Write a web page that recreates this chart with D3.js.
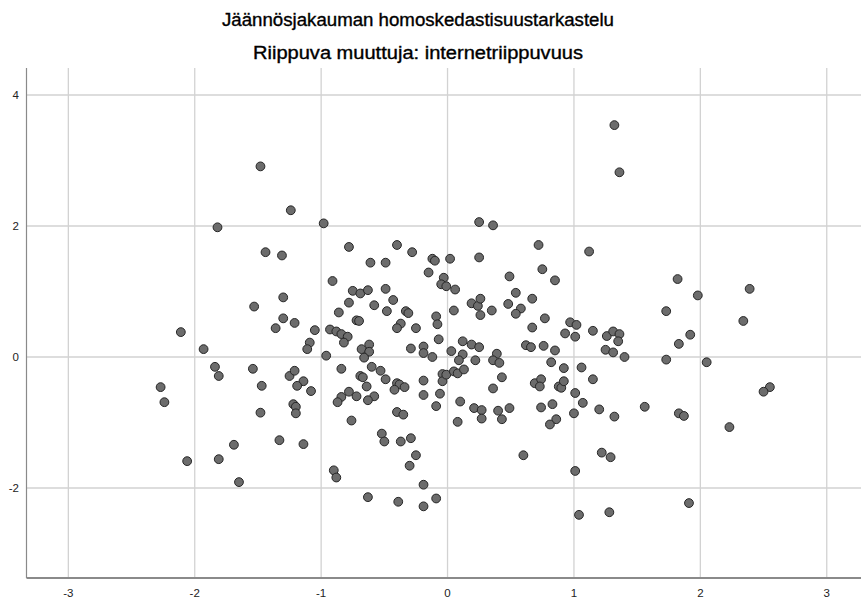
<!DOCTYPE html>
<html>
<head>
	<meta charset="utf-8" />
	<title>residual scatter</title>
	<script src="https://cdn.jsdelivr.net/npm/d3@7/dist/d3.min.js"></script>
	<style>
	body { margin: 0; background: #fff; }
	.grid line { stroke: #d2d2d2; stroke-width: 1.3px; }
	.tick-label { font: 11.5px "Liberation Sans Narrow", "Arial Narrow", "Liberation Sans", sans-serif; fill: #222; }
	.title { font: 17.5px "Liberation Sans Narrow", "Arial Narrow", "Liberation Sans", sans-serif; fill: #000; stroke: #000; stroke-width: 0.35px; }
	</style>
</head>
<body>
<div id="chart"></div>
<script>

const titleLines = ["Jäännösjakauman homoskedastisuustarkastelu", "Riippuva muuttuja: internetriippuvuus"];
const xTicks = [-3, -2, -1, 0, 1, 2, 3];
const yTicks = [-2, 0, 2, 4];

// residual pairs (x = predicted, y = residual)
const xValues = [
	-1.48, -1.24, -1.82, -0.98, -1.44, -1.31, -0.91, -1.30, -1.53, -1.30,
	-1.21, -1.36, -1.05, -0.93, -2.11, -1.09, -1.11, -1.93, -0.96, -1.84,
	-1.81, -1.54, -1.25, -1.21, -1.14, -1.19, -1.08, -1.47, -2.27, -2.24,
	-1.22, -1.20, -1.20, -1.48, -1.33, -1.14, -1.69, -1.81, -2.06, -1.65,
	-0.78, -0.40, -0.28, -0.12, -0.10, 0.02, 0.25, -0.61, -0.49, -0.15,
	-0.03, -0.05, -0.01, 0.06, -0.75, -0.69, -0.63, -0.49, -0.43, -0.78,
	-0.58, -0.86, -0.48, -0.33, -0.31, 0.05, 0.19, 0.24, 0.26, -0.09,
	-0.08, -0.72, -0.70, -0.37, -0.40, -0.25, -0.88, 0.26, -0.84, -0.79,
	-0.82, -0.07, -0.68, -0.62, -0.62, -0.66, -0.29, -0.19, -0.19, -0.12,
	0.03, 0.12, 0.19, 0.25, 0.12, 0.09, 0.22, -0.84, -0.60, -0.53,
	-0.49, -0.69, -0.67, -0.64, -0.40, -0.38, -0.34, -0.42, -0.19, -0.04,
	-0.04, -0.01, 0.05, 0.08, 0.13, -0.78, -0.84, -0.87, -0.72, -0.58,
	-0.63, -0.19, -0.06, -0.09, 0.10, 0.21, 0.08, -0.76, -0.40, -0.35,
	-0.52, -0.50, -0.37, -0.29, -0.25, -0.30, -0.90, -0.88, -0.19, -0.63,
	-0.39, -0.19, -0.09, 0.25, 0.36, 0.72, 1.12, 0.75, 0.49, 0.85,
	0.54, 0.67, 0.48, 0.58, 0.54, 0.35, 0.77, 0.67, 0.97, 1.02,
	0.93, 1.01, 1.15, 1.26, 1.31, 1.36, 1.35, 1.25, 1.31, 1.40,
	0.39, 0.36, 0.41, 0.62, 0.66, 0.76, 0.85, 0.82, 0.92, 1.06,
	0.43, 0.36, 0.69, 0.74, 0.73, 0.88, 0.90, 0.92, 1.15, 1.01,
	1.07, 1.00, 1.20, 1.32, 0.27, 0.27, 0.40, 0.43, 0.49, 0.74,
	0.83, 0.86, 0.81, 0.60, 1.22, 1.29, 1.01, 1.04, 1.28, 1.32,
	1.36, 1.82, 1.98, 2.39, 1.73, 2.34, 1.92, 1.83, 1.73, 2.05,
	2.55, 2.50, 1.56, 1.83, 1.87, 2.23, 1.91
];
const yValues = [
	2.91, 2.24, 1.98, 2.04, 1.60, 1.55, 1.16, 0.91, 0.77, 0.59,
	0.52, 0.44, 0.41, 0.42, 0.38, 0.22, 0.12, 0.12, 0.02, -0.15,
	-0.29, -0.18, -0.29, -0.21, -0.37, -0.44, -0.52, -0.44, -0.46, -0.69,
	-0.72, -0.76, -0.86, -0.85, -1.27, -1.33, -1.34, -1.56, -1.59, -1.91,
	1.68, 1.71, 1.60, 1.50, 1.47, 1.50, 1.52, 1.44, 1.44, 1.29,
	1.21, 1.11, 1.08, 1.03, 1.01, 0.97, 1.02, 1.04, 0.87, 0.83,
	0.79, 0.68, 0.70, 0.70, 0.67, 0.71, 0.82, 0.78, 0.64, 0.62,
	0.50, 0.56, 0.55, 0.51, 0.44, 0.44, 0.39, 0.89, 0.35, 0.31,
	0.22, 0.27, 0.12, 0.19, 0.08, -0.01, 0.13, 0.16, 0.06, 0.00,
	0.09, 0.24, 0.19, 0.15, 0.04, -0.05, -0.05, -0.18, -0.15, -0.21,
	-0.34, -0.29, -0.31, -0.45, -0.40, -0.42, -0.46, -0.50, -0.36, -0.26,
	-0.37, -0.27, -0.22, -0.25, -0.19, -0.53, -0.61, -0.69, -0.60, -0.60,
	-0.66, -0.58, -0.56, -0.75, -0.68, -0.78, -0.99, -0.97, -0.84, -0.88,
	-1.17, -1.29, -1.29, -1.24, -1.50, -1.66, -1.73, -1.84, -1.95, -2.14,
	-2.21, -2.28, -2.16, 2.06, 2.01, 1.71, 1.61, 1.34, 1.23, 1.17,
	0.98, 0.89, 0.81, 0.74, 0.66, 0.71, 0.59, 0.45, 0.53, 0.49,
	0.36, 0.31, 0.40, 0.32, 0.39, 0.35, 0.24, 0.11, 0.07, 0.00,
	0.05, -0.05, -0.09, 0.18, 0.15, 0.17, 0.10, -0.08, -0.17, -0.16,
	-0.31, -0.48, -0.40, -0.34, -0.45, -0.45, -0.47, -0.37, -0.34, -0.55,
	-0.70, -0.86, -0.80, -0.91, -0.81, -0.94, -0.82, -0.95, -0.78, -0.77,
	-0.72, -0.95, -1.03, -1.50, -1.46, -1.53, -1.74, -2.41, -2.37, 3.54,
	2.82, 1.19, 0.94, 1.04, 0.70, 0.55, 0.34, 0.20, -0.04, -0.08,
	-0.46, -0.53, -0.76, -0.86, -0.90, -1.07, -2.23
];

let width = 861, height = 605;
let plot = {left: 26.5, right: 861, top: 68, bottom: 578};

let svg = d3.select("#chart")
	.append("svg")
	.attr("width", width)
	.attr("height", height);

let x = d3.scaleLinear()
	.domain([-3.331, 3.271])
	.range([plot.left, plot.right]);

let y = d3.scaleLinear()
	.domain([-3.374, 4.412])
	.range([plot.bottom, plot.top]);

// titles
titleLines.forEach((t, i) => {
	svg.append("text")
		.attr("class", "title")
		.attr("x", 418)
		.attr("y", 26 + i * 33)
		.attr("text-anchor", "middle")
		.attr("textLength", i == 0 ? 392 : 330)
		.attr("lengthAdjust", "spacingAndGlyphs")
		.text(t);
});

// grid
let grid = svg.append("g").attr("class", "grid");
grid.selectAll(".gx")
	.data(xTicks)
	.enter().append("line")
	.attr("x1", d => x(d)).attr("x2", d => x(d))
	.attr("y1", plot.top).attr("y2", plot.bottom);
grid.selectAll(".gy")
	.data(yTicks)
	.enter().append("line")
	.attr("x1", plot.left).attr("x2", plot.right)
	.attr("y1", d => y(d)).attr("y2", d => y(d));

// axis lines
svg.append("line")
	.attr("x1", plot.left).attr("x2", plot.left)
	.attr("y1", plot.top).attr("y2", plot.bottom)
	.attr("stroke", "#8a8a8a").attr("stroke-width", 1.2);
svg.append("line")
	.attr("x1", plot.left).attr("x2", plot.right)
	.attr("y1", plot.bottom).attr("y2", plot.bottom)
	.attr("stroke", "#8a8a8a").attr("stroke-width", 2);

// tick labels
svg.selectAll(".xl")
	.data(xTicks)
	.enter().append("text")
	.attr("class", "tick-label")
	.attr("x", d => x(d))
	.attr("y", 597)
	.attr("text-anchor", "middle")
	.text(d => d);
svg.selectAll(".yl")
	.data(yTicks)
	.enter().append("text")
	.attr("class", "tick-label")
	.attr("x", 19)
	.attr("y", d => y(d) + 4)
	.attr("text-anchor", "end")
	.text(d => d);

// points
let pts = xValues.map((v, i) => [v, yValues[i]]);
svg.append("g")
	.selectAll("circle")
	.data(pts)
	.enter().append("circle")
	.attr("cx", d => x(d[0]))
	.attr("cy", d => y(d[1]))
	.attr("r", 4.4)
	.attr("fill", "#6c6c6c")
	.attr("stroke", "#262626")
	.attr("stroke-width", 1);

</script>
</body>
</html>
